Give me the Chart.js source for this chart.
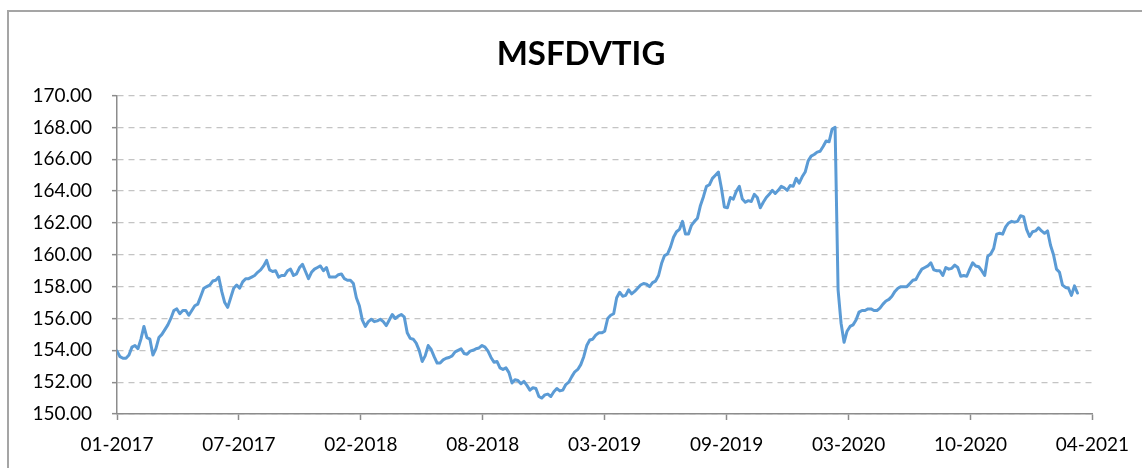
<!DOCTYPE html>
<html>
<head>
<meta charset="utf-8">
<script src="https://cdn.jsdelivr.net/npm/chart.js@4.4.1/dist/chart.umd.min.js"></script>
<style>
  html, body { margin: 0; padding: 0; background: #ffffff; overflow: hidden; }
  #wrap { position: relative; width: 1142px; height: 468px; }
  #frame { position: absolute; left: 7px; top: 10px; width: 2000px; height: 2000px;
           border: 2px solid #a5a5a5; box-sizing: border-box; pointer-events: none; }
  canvas { position: absolute; left: 0; top: 0; }
</style>
</head>
<body>
<div id="wrap">
  <div id="frame"></div>
  <canvas id="c" width="1142" height="468"></canvas>
</div>
<script>
const chartTitle = 'MSFDVTIG';
const xTickLabels = ['01-2017','07-2017','02-2018','08-2018','03-2019','09-2019','03-2020','10-2020','04-2021'];
const axisSpan = 326;           // observation steps covered by the date axis (01-2017 .. 04-2021)
const yTicks = [150,152,154,156,158,160,162,164,166,168,170];

const values2017 = [153.95,153.6,153.5,153.5,153.7,154.2,154.3,154.1,154.7,155.5,154.8,154.7,153.7,154.1,154.8,155.0,155.3,155.6,156.0,156.5,
  156.6,156.3,156.5,156.5,156.2,156.5,156.8,156.9,157.4,157.9,158.0,158.1,158.35,158.4,158.6,157.7,157.0,156.7,157.3,157.9,
  158.1,157.9,158.3,158.5,158.5,158.6,158.7,158.9,159.05,159.3,159.65,159.05,158.95,159.0,158.6];
const values2018a = [158.7,158.7,159.0,159.1,158.7,158.8,159.2,159.4,158.95,158.5,158.9,159.1,159.2,159.3,159.0,159.2,158.6,158.6,158.6,158.75,
  158.8,158.5,158.4,158.4,158.2,157.3,156.8,155.9,155.5,155.8,155.95,155.8,155.85,155.95,155.8,155.55,155.9,156.25,156.0,156.15,
  156.25,156.1,155.1,154.75,154.7,154.45,154.0,153.3,153.65,154.3,154.05,153.6,153.2,153.2];
const values2018b = [153.4,153.5,153.55,153.65,153.9,154.0,154.1,153.8,153.75,153.95,154.0,154.1,154.15,154.3,154.2,153.95,153.55,153.25,153.3,152.9,
  152.8,152.9,152.6,151.95,152.15,152.1,151.9,152.05,151.8,151.5,151.65,151.6,151.1,151.0,151.2,151.25,151.1,151.4,151.6,151.45,
  151.5,151.85,152.0,152.35,152.65,152.8,153.1,153.6,154.3,154.65,154.7,154.95,155.1,155.1,155.2];
const values2019 = [156.0,156.2,156.3,157.3,157.65,157.4,157.45,157.8,157.55,157.7,157.9,158.1,158.2,158.15,158.0,158.25,158.35,158.7,159.45,159.95,
  160.05,160.5,161.1,161.45,161.6,162.1,161.3,161.3,161.85,162.1,162.3,163.1,163.65,164.3,164.4,164.8,165.0,165.2,164.2,163.0,
  162.95,163.6,163.5,164.0,164.3,163.5,163.3,163.4,163.35,163.8,163.6,162.95,163.3,163.6,163.8];
const values2020a = [164.05,163.85,164.05,164.3,164.2,164.05,164.35,164.3,164.8,164.5,164.9,165.2,165.9,166.2,166.3,166.45,166.5,166.8,167.15,167.1,
  167.9,168.0,157.8,155.7,154.5,155.2,155.5,155.6,155.9,156.4,156.5,156.5,156.6,156.6,156.5,156.5,156.65,156.9,157.1,157.2,
  157.4,157.7,157.9,158.0,158.0,158.0,158.2,158.4,158.45,158.8,159.1,159.2,159.3,159.5,159.05];
const values2020b = [159.0,159.0,158.7,159.2,159.1,159.15,159.35,159.2,158.65,158.7,158.65,159.1,159.5,159.3,159.25,159.0,158.7,159.9,160.05,160.4,
  161.3,161.35,161.3,161.75,162.0,162.1,162.05,162.1,162.45,162.4,161.6,161.15,161.45,161.5,161.7,161.5,161.35,161.5,160.6,160.0,
  159.1,158.9,158.1,157.95,157.9,157.45,158.05,157.6];

const values = [].concat(values2017, values2018a, values2018b, values2019, values2020a, values2020b);
const points = values.map((v, i) => ({ x: i, y: v }));

const FONT = 'Lato, "Open Sans", "DejaVu Sans", sans-serif';
const axisColor = '#8c8c8c';

new Chart(document.getElementById('c'), {
  type: 'line',
  data: {
    datasets: [{
      label: chartTitle,
      data: points,
      borderColor: '#5b9bd5',
      borderWidth: 3,
      pointRadius: 0,
      tension: 0,
      borderJoinStyle: 'round',
      borderCapStyle: 'round',
      fill: false,
      xAxisID: 'x',
      yAxisID: 'y'
    }]
  },
  options: {
    responsive: false,
    devicePixelRatio: 1,
    animation: false,
    layout: { padding: { left: 20, right: 0, top: 0, bottom: 0 } },
    plugins: {
      legend: { display: false },
      tooltip: { enabled: false },
      title: {
        display: true,
        text: chartTitle,
        color: '#000000',
        font: { family: FONT, size: 33, weight: 'bold' },
        padding: { top: 35, bottom: 21 }
      }
    },
    scales: {
      x: {
        type: 'linear',
        min: 0,
        max: axisSpan,
        afterBuildTicks: (scale) => {
          scale.ticks = xTickLabels.map((_, i) => ({ value: i * axisSpan / (xTickLabels.length - 1) }));
        },
        afterFit: (scale) => { scale.height = 54; },
        ticks: {
          autoSkip: false,
          maxRotation: 0,
          padding: 13,
          color: '#000000',
          font: { family: FONT, size: 19 },
          callback: (v, i) => xTickLabels[i]
        },
        grid: {
          drawOnChartArea: false,
          drawTicks: true,
          tickLength: 6,
          tickColor: axisColor,
          tickWidth: 1.5
        },
        border: { display: true, color: axisColor, width: 1.5 }
      },
      y: {
        position: 'left',
        min: yTicks[0],
        max: yTicks[yTicks.length - 1],
        afterBuildTicks: (scale) => { scale.ticks = yTicks.map(v => ({ value: v })); },
        afterFit: (scale) => { scale.width = 97; },
        ticks: {
          padding: 20,
          color: '#000000',
          font: { family: FONT, size: 19 },
          callback: (v) => Number(v).toFixed(2)
        },
        grid: {
          color: '#c4c4c4',
          lineWidth: 1.3,
          drawTicks: true,
          tickLength: 5,
          tickColor: axisColor,
          tickWidth: 1.5
        },
        border: { display: true, color: axisColor, width: 1.5, dash: [6, 5] }
      },
      yRight: {
        position: 'right',
        min: yTicks[0],
        max: yTicks[yTicks.length - 1],
        afterFit: (scale) => { scale.width = 47; },
        ticks: { display: false },
        grid: { display: false, drawTicks: false },
        border: { display: false }
      }
    }
  }
});
</script>
</body>
</html>
